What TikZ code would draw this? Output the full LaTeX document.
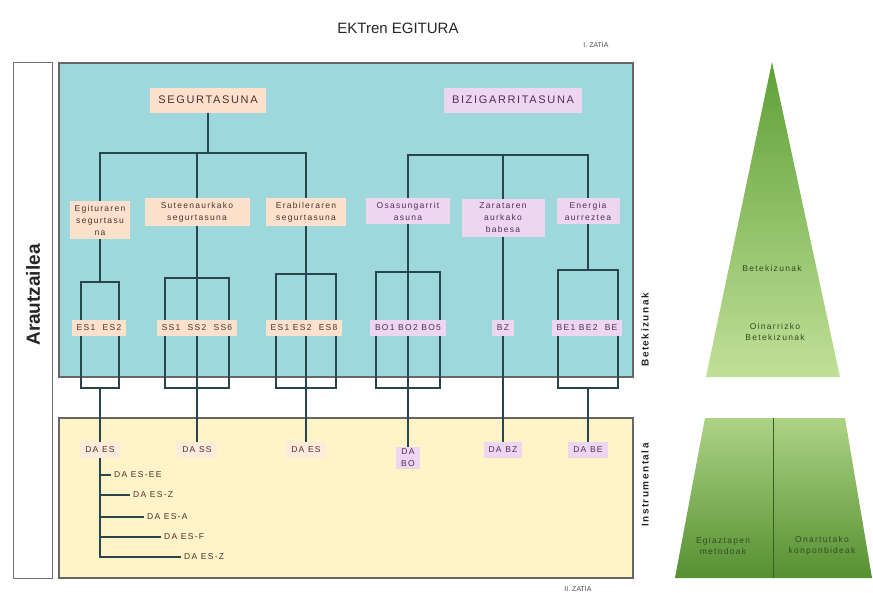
\documentclass[tikz,border=0pt]{standalone}
\usepackage{fontspec}
\setmainfont{Liberation Sans}
\newfontfamily\spaced[LetterSpace=15]{Liberation Sans}
\usetikzlibrary{positioning}
\definecolor{pan}{RGB}{158,216,220}
\definecolor{cre}{RGB}{255,243,200}
\definecolor{pch}{RGB}{252,226,205}
\definecolor{lil}{RGB}{236,214,240}
\definecolor{ln}{RGB}{40,70,75}
\definecolor{txb}{RGB}{85,45,45}
\definecolor{txp}{RGB}{85,45,90}
\definecolor{gd}{RGB}{95,160,55}
\definecolor{gl}{RGB}{192,224,152}
\definecolor{gt}{RGB}{50,75,35}

\begin{document}
\begin{tikzpicture}[x=1pt, y=-1pt,
  conn/.style={draw=ln, line width=1.2pt},
  topbox/.style={fill=pch, minimum height=25, inner xsep=8, text=txb, font=\spaced\fontsize{11}{13}\selectfont},
  midbox/.style={fill=pch, align=center, inner sep=4, text=txb, font=\spaced\fontsize{8.5}{12}\selectfont},
  codebox/.style={fill=pch, minimum height=16, inner xsep=5, inner ysep=2, text=txb, font=\spaced\fontsize{8.5}{10}\selectfont},
  grp/.style={draw=ln, line width=1.2pt, inner sep=0},
  sublbl/.style={inner sep=3, text=txb, font=\spaced\fontsize{8.5}{10}\selectfont},
  side/.style={rotate=90, text=black!85, font=\spaced\bfseries\fontsize{10}{12}\selectfont},
  pyr/.style={align=center, text=gt, font=\spaced\fontsize{8.5}{11}\selectfont}
]
\useasboundingbox (0,0) rectangle (873,592);
% title and panels
\node[font=\fontsize{15}{17}\selectfont, text=black!85] (title) at (398,28) {EKTren EGITURA};
\node[font=\fontsize{7}{8}\selectfont, text=black!70] (zat1) at (596,45) {I. ZATIA};
\node[font=\fontsize{7}{8}\selectfont, text=black!70] (zat2) at (578,589) {II. ZATIA};
\node[draw=black!55, fill=white, line width=1pt, minimum width=39, minimum height=516] (arau) at (32.5,320) {};
\node[rotate=90, text=black!85, font=\bfseries\fontsize{19}{20}\selectfont] (arautxt) at (33,295) {Arautzailea};
\node[draw=black!60, fill=pan, line width=1.5pt, anchor=north west, minimum width=574, minimum height=314] (goi) at (58,62) {};
\node[draw=black!60, fill=cre, line width=1.5pt, anchor=north west, minimum width=574, minimum height=160] (behe) at (58,417) {};
\node[side] (bete) at (645,330) {Betekizunak};
\node[side] (inst) at (645,485) {Instrumentala};

% upper tree
\node[topbox] (seg) at (208,100) {SEGURTASUNA};
\node[topbox, fill=lil, text=txp] (biz) at (513,100) {BIZIGARRITASUNA};
\node[midbox, minimum width=60] (egi) at (100,220) {Egituraren\\segurtasu\\na};
\node[midbox, minimum width=105] (sute) at (197,212) {Suteenaurkako\\segurtasuna};
\node[midbox, minimum width=80] (era) at (306,212) {Erabileraren\\segurtasuna};
\node[midbox, fill=lil, text=txp, minimum width=84] (osa) at (408,211) {Osasungarrit\\asuna};
\node[midbox, fill=lil, text=txp, minimum width=83] (zar) at (503,218) {Zarataren\\aurkako\\babesa};
\node[midbox, fill=lil, text=txp, minimum width=63] (ene) at (588,211) {Energia\\aurreztea};
\coordinate (sbar) at (208,153);
\coordinate (bbar) at (503,155);
\draw[conn] (seg) -- (sbar);
\draw[conn] (egi.north) |- (sbar) -| (era.north);
\draw[conn] (sute.north) -- (sute.north |- sbar);
\draw[conn] (osa.north) |- (bbar) -| (ene.north);
\draw[conn] (zar.north) -- (zar.north |- bbar);

% lower part
\node[codebox, fill=pch!70] (daes1) at (100,450) {DA ES};
\node[codebox, fill=pch!70] (dass) at (197,450) {DA SS};
\node[codebox, fill=pch!70] (daes2) at (306,450) {DA ES};
\node[codebox, fill=lil, text=txp, align=center, font=\spaced\fontsize{8.5}{12}\selectfont] (dabo) at (408,458) {DA\\BO};
\node[codebox, fill=lil, text=txp] (dabz) at (503,450) {DA BZ};
\node[codebox, fill=lil, text=txp] (dabe) at (588,450) {DA BE};
\node[grp, minimum width=38, minimum height=106] (r1) at (100,335) {};
\node[grp, line width=1.8pt, minimum width=64, minimum height=110] (r2) at (197,333) {};
\node[grp, minimum width=60, minimum height=114] (r3) at (306,331) {};
\node[grp, minimum width=64, minimum height=116] (r4) at (408,330) {};
\node[grp, minimum width=60, minimum height=118] (r6) at (588,329) {};
\draw[conn] (egi) -- (r1.north);
\draw[conn] (r1.south) -- (daes1);
\draw[conn] (sute) -- (dass);
\draw[conn] (era) -- (daes2);
\draw[conn] (osa) -- (dabo);
\draw[conn] (zar) -- (dabz);
\draw[conn] (ene) -- (r6.north);
\draw[conn] (r6.south) -- (dabe);
\node[codebox] (c1) at (99,328) {ES1 \ ES2};
\node[codebox] (c2) at (197,328) {SS1 \ SS2 \ SS6};
\node[codebox] (c3) at (304,328) {ES1 ES2 \ ES8};
\node[codebox, fill=lil, text=txp] (c4) at (408,328) {BO1 BO2 BO5};
\node[codebox, fill=lil, text=txp] (c5) at (503,328) {BZ};
\node[codebox, fill=lil, text=txp] (c6) at (587,328) {BE1 BE2 \ BE};

% DA ES branches
\node[sublbl, anchor=west] (s1) at (111,475) {DA ES-EE};
\node[sublbl, anchor=west] (s2) at (130,495) {DA ES-Z};
\node[sublbl, anchor=west] (s3) at (144,517) {DA ES-A};
\node[sublbl, anchor=west] (s4) at (161,537) {DA ES-F};
\node[sublbl, anchor=west] (s5) at (181,557) {DA ES-Z};
\draw[conn] (daes1.south) |- (s5.west);
\foreach \s in {s1,s2,s3,s4}
  \draw[conn] (\s.west) -- (\s.west -| daes1.south);

% pyramid
\shade[top color=gd, bottom color=gl] (772,62) -- (840,377) -- (706,377) -- cycle;
\shade[top color=gl!80!gd, bottom color=gd!90!black] (705,418) -- (845,418) -- (872,578) -- (675,578) -- cycle;
\draw[gd!60!black, line width=0.6pt] (773,418) -- (773,578);
\node[pyr] (p1) at (772,268) {Betekizunak};
\node[pyr] (p2) at (775,332) {Oinarrizko\\Betekizunak};
\node[pyr] (p3) at (723,546) {Egiaztapen\\metodoak};
\node[pyr] (p4) at (822,546) {Onartutako\\konponbideak};
\end{tikzpicture}
\end{document}
